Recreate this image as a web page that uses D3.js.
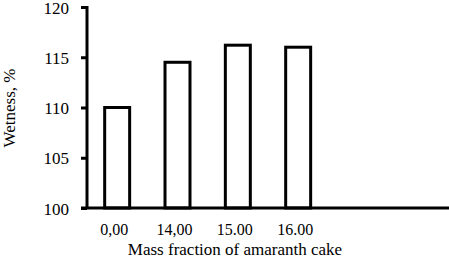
<!DOCTYPE html>
<html>
<head>
<meta charset="utf-8">
<script src="https://cdn.jsdelivr.net/npm/d3@7"></script>
<style>
  body { margin: 0; background: #fff; }
</style>
</head>
<body>
<div id="chart"></div>
<script>
// data
const categories = ["0,00", "14,00", "15.00", "16.00"];
const wetness = [110, 114.5, 116.2, 116.0];
const yTicks = [100, 105, 110, 115, 120];
const SLOTS = 6; // the axis leaves room for two more groups on the right
const FONT = "Liberation Serif";

const W = 449, H = 259;
const mLeft = 87, mRight = 449, mTop = 7, mBottom = 208;

const svg = d3.select("#chart").append("svg").attr("width", W).attr("height", H)
  .style("font-family", FONT);

const x = d3.scaleBand().domain(d3.range(SLOTS)).range([mLeft, mRight])
  .paddingInner(0.586).paddingOuter(0.293);
const y = d3.scaleLinear().domain([100, 120]).range([mBottom, mTop]);

// bars
svg.append("g").selectAll("rect").data(wetness).join("rect")
  .attr("x", (d, i) => x(i))
  .attr("width", x.bandwidth())
  .attr("y", d => y(d))
  .attr("height", d => y(100) - y(d))
  .attr("fill", "#fff")
  .attr("stroke", "#000")
  .attr("stroke-width", 3);

// y axis
const ya = svg.append("g").attr("transform", `translate(${mLeft},0)`)
  .call(d3.axisLeft(y).tickValues(yTicks).tickSize(6).tickPadding(12))
  .attr("font-family", FONT);
ya.select(".domain").attr("stroke-width", 3).attr("d", `M0,${mTop - 1}V${mBottom}`);
ya.selectAll(".tick line").attr("stroke-width", 3);
ya.selectAll(".tick text").attr("font-size", 17).attr("fill", "#000").attr("dy", "0.36em");

// x axis
const xa = svg.append("g").attr("transform", `translate(0,${mBottom})`)
  .call(d3.axisBottom(x).tickSize(0).tickPadding(16).tickFormat(i => categories[i] || ""))
  .attr("font-family", FONT);
xa.select(".domain").attr("stroke-width", 3).attr("d", `M${mLeft - 6},0H${mRight}`);
xa.selectAll(".tick text").attr("font-size", 16).attr("fill", "#000").attr("dx", -3);

// axis titles
svg.append("text").attr("x", 235).attr("y", 255).attr("text-anchor", "middle")
  .attr("font-size", 17).text("Mass fraction of amaranth cake");
svg.append("text").attr("transform", "translate(15,108) rotate(-90)")
  .attr("text-anchor", "middle").attr("font-size", 17).text("Wetness, %");
</script>
</body>
</html>
